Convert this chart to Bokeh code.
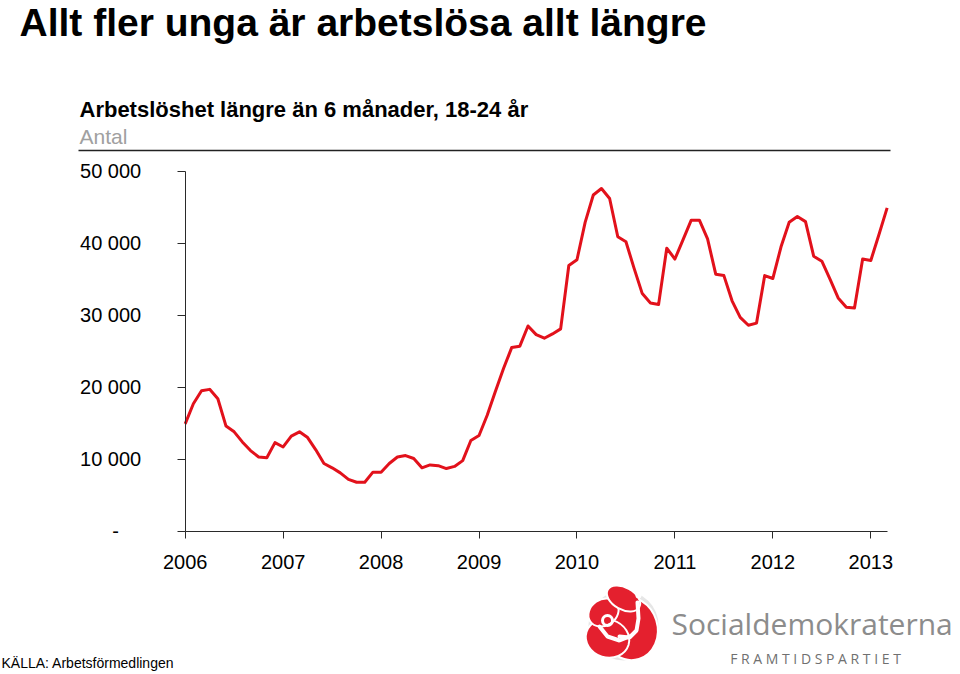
from bokeh.plotting import figure
from bokeh.models import Range1d, LinearAxis, FixedTicker
from bokeh.core.properties import value
from bokeh.embed import file_html
from bokeh.resources import INLINE

# ---------------- data ----------------
TITLE = "Allt fler unga är arbetslösa allt längre"
SUBTITLE = "Arbetslöshet längre än 6 månader, 18-24 år"
UNIT = "Antal"
SOURCE = "KÄLLA: Arbetsförmedlingen"
LOGO_NAME = "Socialdemokraterna"
LOGO_SLOGAN = "FRAMTIDSPARTIET"

years = ["2006", "2007", "2008", "2009", "2010", "2011", "2012", "2013"]
y_ticks = [0, 10000, 20000, 30000, 40000, 50000]
y_tick_labels = ["-", "10 000", "20 000", "30 000", "40 000", "50 000"]

# monthly values, Jan 2006 .. Mar 2013
unemployed = [
    14900, 17700, 19500, 19700, 18400, 14600, 13800, 12400, 11200, 10300, 10200, 12300,   # 2006
    11700, 13200, 13800, 13000, 11300, 9400, 8800, 8100, 7200, 6800, 6800, 8200,          # 2007
    8200, 9400, 10300, 10500, 10100, 8800, 9200, 9100, 8700, 9000, 9800, 12600,           # 2008
    13300, 16100, 19400, 22600, 25500, 25700, 28500, 27300, 26800, 27400, 28100, 36900,   # 2009
    37700, 42900, 46700, 47600, 46200, 40900, 40200, 36500, 33000, 31700, 31500, 39300,   # 2010
    37800, 40500, 43200, 43200, 40600, 35700, 35500, 32000, 29700, 28600, 28900, 35500,   # 2011
    35100, 39500, 42900, 43700, 43000, 38200, 37500, 35000, 32400, 31100, 31000, 37800,   # 2012
    37600, 41200, 44900,                                                                  # 2013
]
months = list(range(len(unemployed)))

# ---------------- layout ----------------
W, H = 960, 674
X0, PPM = 184.7, 8.162      # canvas x of first month, px per month
Y0, PPU = 530.7, 0.0072     # canvas y (from top) of value 0, px per unit

p = figure(
    width=W, height=H,
    x_range=Range1d(-X0 / PPM, (W - X0) / PPM),
    y_range=Range1d(-(H - Y0) / PPU, Y0 / PPU),
    output_backend="svg", toolbar_location=None,
    x_axis_type=None, y_axis_type=None,
    min_border=0, min_border_left=0, min_border_right=0,
    min_border_top=0, min_border_bottom=0,
    outline_line_color=None,
    background_fill_color="white", border_fill_color="white",
)
p.extra_x_ranges = {"px": Range1d(0, W)}
p.extra_y_ranges = {"py": Range1d(H, 0)}

AXIS_COLOR = "#2a2a2a"
FONT = "Liberation Sans"

yax = LinearAxis(
    ticker=FixedTicker(ticks=y_ticks, minor_ticks=[]),
    fixed_location=0,
    bounds=(y_ticks[0], y_ticks[-1]),
    major_label_overrides={t: (l if l != "-" else "-" + "\u00a0" * 4) for t, l in zip(y_ticks, y_tick_labels)},
    major_tick_in=0, major_tick_out=8, minor_tick_in=0, minor_tick_out=0,
    axis_line_color=AXIS_COLOR, major_tick_line_color=AXIS_COLOR,
    major_label_text_font=FONT, major_label_text_font_size="20px",
    major_label_text_color="black", major_label_standoff=36,
)
p.add_layout(yax, "left")

year_ticks = [12 * i for i in range(len(years))]
xax = LinearAxis(
    ticker=FixedTicker(ticks=year_ticks, minor_ticks=[]),
    fixed_location=0,
    bounds=(months[0], months[-1]),
    major_label_overrides={t: y for t, y in zip(year_ticks, years)},
    major_tick_in=0, major_tick_out=7, minor_tick_in=0, minor_tick_out=0,
    axis_line_color=AXIS_COLOR, major_tick_line_color=AXIS_COLOR,
    major_label_text_font=FONT, major_label_text_font_size="20px",
    major_label_text_color="black", major_label_standoff=17,
)
p.add_layout(xax, "below")

p.line(x=months, y=unemployed, line_color="#e2111b", line_width=3, line_join="round")


def txt(x, base, s, size, color, bold=False, align="left", font=FONT):
    # text is placed by its vertical middle; convert desired baseline
    p.text(x=[x], y=[base - 0.35 * size], text=[s], x_range_name="px", y_range_name="py",
           text_font=value(font), text_font_size=f"{size}px",
           text_font_style="bold" if bold else "normal",
           text_color=color, text_align=align, text_baseline="middle")


txt(19, 36, TITLE, 39, "black", bold=True)
txt(79, 117, SUBTITLE, 22, "black", bold=True)
txt(79, 143, UNIT, 21, "#a0a0a0")
p.segment(x0=[78], y0=[150], x1=[890], y1=[150], x_range_name="px", y_range_name="py",
          line_color="#222222", line_width=1.5)
txt(1, 667, SOURCE, 14, "black")

# ---------------- logo ----------------
RED = "#e4202e"
cx, cy = 621, 622
p.circle(x=[cx + 2], y=[cy + 3], radius=35, x_range_name="px", y_range_name="py",
         fill_color="#e6e6e6", line_color=None)
petals = [
    (cx + 8, cy + 6, 56, 64, 0.3),
    (cx - 14, cy + 16, 44, 38, -0.3),
    (cx - 18, cy - 10, 32, 26, 0.6),
    (cx + 2, cy - 24, 36, 22, -0.5),
]
for ex, ey, ew, eh, ea in petals:
    p.ellipse(x=[ex], y=[ey], width=ew, height=eh, angle=ea,
              x_range_name="px", y_range_name="py",
              fill_color=RED, line_color="white", line_width=2)
p.line(x=[cx + 16, cx + 17, cx + 15, cx + 8, cx - 2], y=[cy - 20, cy - 4, cy + 8, cy + 15, cy + 14],
       x_range_name="px", y_range_name="py", line_color="white", line_width=4, line_cap="round")
p.line(x=[cx - 22, cx - 14, cx - 2, cx + 8], y=[cy + 4, cy + 14, cy + 18, cy + 14],
       x_range_name="px", y_range_name="py", line_color="white", line_width=4, line_cap="round")
p.circle(x=[cx - 14], y=[cy - 2], radius=5, x_range_name="px", y_range_name="py",
         fill_color=None, line_color="white", line_width=3)
p.circle(x=[cx + 17], y=[cy - 27], radius=3, x_range_name="px", y_range_name="py",
         fill_color="white", line_color=None)

txt(671, 633, LOGO_NAME, 30, "#8c8c8c", font="Open Sans")
txt(815, 663, " ".join(LOGO_SLOGAN), 14, "#707070", align="center", font="Open Sans")

open("out.html", "w").write(file_html(p, INLINE))
